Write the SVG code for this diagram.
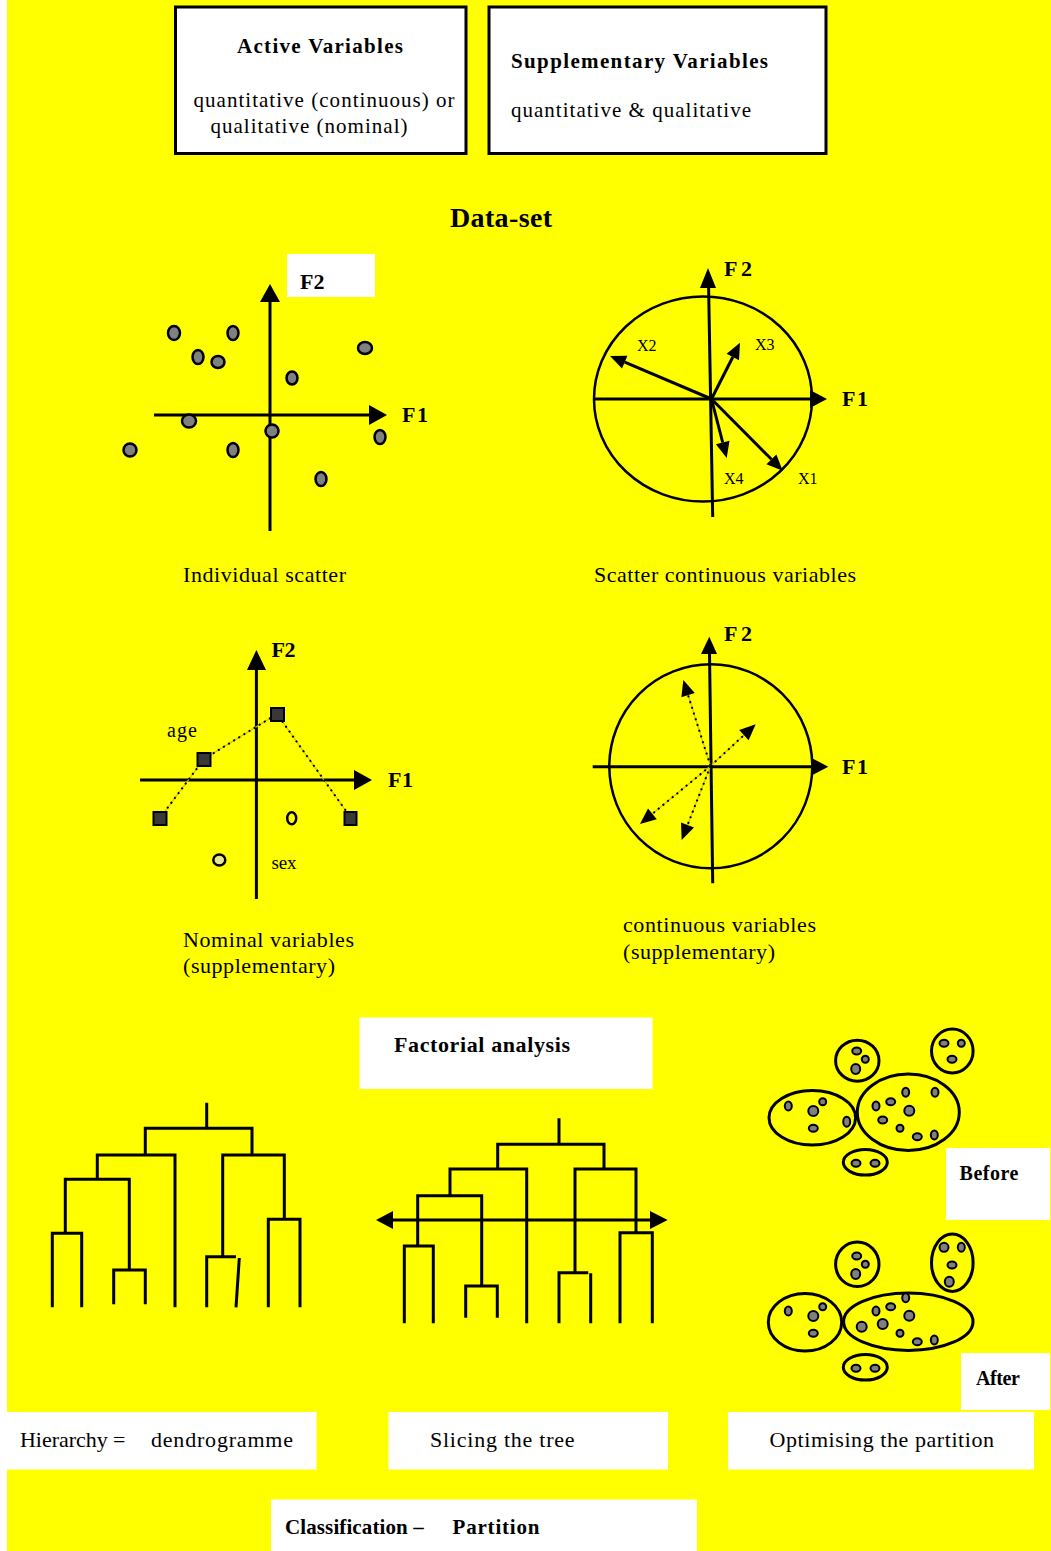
<svg xmlns="http://www.w3.org/2000/svg" width="1051" height="1551" viewBox="0 0 1051 1551">
<style>
.bg{fill:#ffff00}
.wb{fill:#ffffff}
.bx{fill:#ffffff;stroke:#000;stroke-width:3}
.ln{fill:none;stroke:#000;stroke-width:3}
.thin{fill:none;stroke:#000;stroke-width:2.5}
.ah{fill:#000;stroke:none}
.dot{fill:#808080;stroke:#000;stroke-width:2.5}
.cd{fill:#808080;stroke:#000;stroke-width:2}
.dotted{fill:none;stroke:#000;stroke-width:2;stroke-dasharray:2 4}
.faint{fill:none;stroke:#c8c800;stroke-width:1.2}
.sq{fill:#383838;stroke:#000;stroke-width:2}
.t{font-family:'Liberation Serif','Times New Roman',serif;fill:#000}
.r{font-weight:normal}
.b{font-weight:bold}
</style>
<rect class="bg" x="7" y="0" width="1044" height="1551"/>

<g id="active-box">
<rect class="bx" x="175.5" y="7" width="290.5" height="146.5"/>
<text class="t b" x="237" y="53" font-size="21" textLength="166" lengthAdjust="spacing">Active Variables</text>
<text class="t r" x="193.5" y="107" font-size="21" textLength="261" lengthAdjust="spacing">quantitative (continuous) or</text>
<text class="t r" x="210.5" y="133" font-size="21" textLength="197" lengthAdjust="spacing">qualitative (nominal)</text>
</g>
<g id="supp-box">
<rect class="bx" x="489" y="7" width="337" height="146.5"/>
<text class="t b" x="511" y="68" font-size="21" textLength="257" lengthAdjust="spacing">Supplementary Variables</text>
<text class="t r" x="511" y="117" font-size="21" textLength="240" lengthAdjust="spacing">quantitative &amp; qualitative</text>
</g>
<g id="dataset-title">
<text class="t b" x="450" y="227" font-size="28" textLength="102" lengthAdjust="spacing">Data-set</text>
</g>

<g id="individual-scatter">
<rect class="wb" x="287" y="254" width="88" height="43"/>
<line class="ln" x1="154" y1="415" x2="370" y2="415"/>
<polygon class="ah" points="387,415 369,405 369,425"/>
<line class="ln" x1="270" y1="531" x2="270" y2="301"/>
<polygon class="ah" points="270,284 260,302 280,302"/>
<text class="t b" x="300" y="289" font-size="22">F2</text>
<text class="t b" x="402" y="422" font-size="22" textLength="26" lengthAdjust="spacing">F1</text>
<ellipse class="dot" cx="174" cy="333" rx="6" ry="7"/>
<ellipse class="dot" cx="233" cy="333" rx="5.5" ry="7"/>
<ellipse class="dot" cx="198" cy="357" rx="5.5" ry="7"/>
<ellipse class="dot" cx="218" cy="362" rx="6.5" ry="6"/>
<ellipse class="dot" cx="292" cy="378" rx="5.5" ry="6.5"/>
<ellipse class="dot" cx="365" cy="348" rx="7" ry="6"/>
<ellipse class="dot" cx="189" cy="421" rx="7" ry="6.5"/>
<ellipse class="dot" cx="130" cy="450" rx="6.5" ry="6.5"/>
<ellipse class="dot" cx="233" cy="450" rx="5.5" ry="7"/>
<ellipse class="dot" cx="272" cy="431" rx="6.5" ry="6.5"/>
<ellipse class="dot" cx="380" cy="437" rx="5.5" ry="7"/>
<ellipse class="dot" cx="321" cy="479" rx="5.5" ry="7"/>
<text class="t r" x="183" y="582" font-size="22" textLength="163" lengthAdjust="spacing">Individual scatter</text>
</g>

<g id="continuous-scatter">
<ellipse class="thin" cx="703" cy="399" rx="109" ry="102.5"/>
<line class="ln" x1="594" y1="399" x2="811" y2="399"/>
<polygon class="ah" points="827,399 810,390 810,408"/>
<line class="ln" x1="712.7" y1="517" x2="708.6" y2="287"/>
<polygon class="ah" points="708,268 700,288 716,288"/>
<line class="ln" x1="711.5" y1="399" x2="624.7" y2="362.2"/>
<polygon class="ah" points="610,356 627.4,355.8 622,368.6"/>
<line class="ln" x1="711.5" y1="399" x2="732.8" y2="357"/>
<polygon class="ah" points="740,342.7 739,360.2 726.6,353.8"/>
<line class="ln" x1="711.5" y1="399" x2="722.7" y2="442.5"/>
<polygon class="ah" points="726.7,458 715.9,444.3 729.5,440.8"/>
<line class="ln" x1="711.5" y1="399" x2="771.4" y2="459.3"/>
<polygon class="ah" points="782.7,470.7 766.4,464.2 776.4,454.4"/>
<text class="t b" x="724" y="276" font-size="22" textLength="28" lengthAdjust="spacing">F2</text>
<text class="t b" x="842" y="406" font-size="22" textLength="26" lengthAdjust="spacing">F1</text>
<text class="t r" x="637" y="351" font-size="16">X2</text>
<text class="t r" x="755" y="350" font-size="16">X3</text>
<text class="t r" x="724" y="484" font-size="16">X4</text>
<text class="t r" x="798" y="484" font-size="16">X1</text>
<text class="t r" x="594" y="582" font-size="22" textLength="262" lengthAdjust="spacing">Scatter continuous variables</text>
</g>

<g id="nominal-scatter">
<line class="ln" x1="140" y1="780" x2="355" y2="780"/>
<polygon class="ah" points="372,780 354,770 354,790"/>
<line class="ln" x1="256.4" y1="899" x2="256.4" y2="669"/>
<polygon class="ah" points="256.4,650 247,670 266,670"/>
<polyline class="faint" points="160,818 204,759 277,714 351,818"/>
<polyline class="dotted" points="160,818 204,759 277,714 351,818"/>
<rect class="sq" x="271" y="708" width="13" height="13"/>
<rect class="sq" x="197.5" y="753" width="13" height="13"/>
<rect class="sq" x="153.5" y="812" width="13" height="13"/>
<rect class="sq" x="344.5" y="812" width="12" height="13"/>
<ellipse class="thin" cx="291.7" cy="818.3" rx="4.5" ry="6"/>
<ellipse fill="#e8e890" stroke="#000" stroke-width="2.5" cx="219.3" cy="860" rx="6" ry="5.5"/>
<text class="t b" x="271.5" y="657" font-size="22" textLength="24" lengthAdjust="spacing">F2</text>
<text class="t b" x="388" y="787" font-size="22" textLength="25" lengthAdjust="spacing">F1</text>
<text class="t r" x="167" y="737" font-size="20" textLength="30" lengthAdjust="spacing">age</text>
<text class="t r" x="271.5" y="869" font-size="19" textLength="25" lengthAdjust="spacing">sex</text>
<text class="t r" x="183" y="947" font-size="22" textLength="171" lengthAdjust="spacing">Nominal variables</text>
<text class="t r" x="183" y="973" font-size="22" textLength="152" lengthAdjust="spacing">(supplementary)</text>
</g>

<g id="continuous-supp">
<ellipse class="thin" cx="710.8" cy="766.3" rx="101.5" ry="102"/>
<line class="ln" x1="592.7" y1="766.7" x2="811" y2="766.7"/>
<polygon class="ah" points="828.3,766.7 811,757.7 811,775.7"/>
<line class="ln" x1="712.7" y1="883.3" x2="709.5" y2="653"/>
<polygon class="ah" points="709.3,636.7 701,654 717,654"/>
<line class="faint" x1="710.5" y1="766" x2="688.1" y2="695.2"/>
<line class="dotted" x1="710.5" y1="766" x2="688.1" y2="695.2"/>
<polygon class="ah" points="683.3,680 694.8,693.1 681.4,697.3"/>
<line class="faint" x1="710.5" y1="766" x2="743.9" y2="735.2"/>
<line class="dotted" x1="710.5" y1="766" x2="743.9" y2="735.2"/>
<polygon class="ah" points="755.7,724.3 748.6,740.3 739.2,730.1"/>
<line class="faint" x1="710.5" y1="766" x2="652.4" y2="813.8"/>
<line class="dotted" x1="710.5" y1="766" x2="652.4" y2="813.8"/>
<polygon class="ah" points="640,824 648,808.4 656.8,819.2"/>
<line class="faint" x1="710.5" y1="766" x2="687.5" y2="825.1"/>
<line class="dotted" x1="710.5" y1="766" x2="687.5" y2="825.1"/>
<polygon class="ah" points="681.7,840 681,822.6 694,827.6"/>
<text class="t b" x="724" y="641" font-size="22" textLength="28" lengthAdjust="spacing">F2</text>
<text class="t b" x="842" y="774" font-size="22" textLength="26" lengthAdjust="spacing">F1</text>
<text class="t r" x="623" y="932" font-size="22" textLength="193" lengthAdjust="spacing">continuous variables</text>
<text class="t r" x="623" y="959" font-size="22" textLength="152" lengthAdjust="spacing">(supplementary)</text>
</g>

<g id="factorial-analysis">
<rect class="wb" x="359.5" y="1017.5" width="293" height="71.5"/>
<text class="t b" x="394" y="1052" font-size="22" textLength="176" lengthAdjust="spacing">Factorial analysis</text>
</g>

<g id="dendrogram">
<path class="ln" d="M206.7,1102.7 V1128.3 M145.3,1155 V1128.3 H252 V1155
M97.3,1179.3 V1155 H175 V1307.3
M65.3,1233.3 V1179.3 H129.3 V1270
M52.3,1307.3 V1233.3 H81.7 V1307.3
M113.7,1304.3 V1270 H145.3 V1304.3
M222.7,1256.7 V1155 H284.3 V1219.3
M206.7,1307.3 V1256.7 H236
M239.3,1258 L236,1307.3
M268.3,1307.3 V1219.3 H300 V1307.3"/>
</g>

<g id="sliced-tree">
<path class="ln" d="M559,1118.3 V1144.3 M497.7,1169 V1144.3 H604 V1169
M450,1195.7 V1169 H526.7 V1323.3
M417.7,1246 V1195.7 H481.7 V1286
M404.3,1323.3 V1246 H433.3 V1323.3
M465.7,1317.7 V1286 H497.3 V1317.7
M575,1272.7 V1169 H636 V1232.7
M559,1323.3 V1272.7 H588.3
M590.7,1273.3 V1323.3
M620,1323.3 V1232.7 H652.3 V1323.3"/>
<line class="ln" x1="392" y1="1220" x2="651" y2="1220"/>
<polygon class="ah" points="376,1220 393,1211 393,1229"/>
<polygon class="ah" points="667.7,1220 650,1211 650,1229"/>
</g>

<g id="partition-before">
<ellipse class="ln" cx="857.3" cy="1060.7" rx="21.7" ry="20.5"/>
<ellipse class="cd" cx="856.7" cy="1051" rx="4.5" ry="3.5"/>
<ellipse class="cd" cx="865.3" cy="1059.3" rx="3.5" ry="3.5"/>
<ellipse class="cd" cx="855.7" cy="1069" rx="4.5" ry="5"/>
<ellipse class="ln" cx="952.3" cy="1051" rx="20.8" ry="22"/>
<ellipse class="cd" cx="944" cy="1043.3" rx="4.5" ry="3.5"/>
<ellipse class="cd" cx="961.3" cy="1043.3" rx="3.5" ry="3.5"/>
<ellipse class="cd" cx="952" cy="1059.3" rx="4.5" ry="3.5"/>
<ellipse class="ln" cx="812.3" cy="1117.7" rx="43.3" ry="27.3"/>
<ellipse class="cd" cx="788.3" cy="1106" rx="3.5" ry="4.5"/>
<ellipse class="cd" cx="822.7" cy="1101.7" rx="3.5" ry="3.5"/>
<ellipse class="cd" cx="813.3" cy="1111" rx="5" ry="5"/>
<ellipse class="cd" cx="813.3" cy="1128.3" rx="4.5" ry="3.5"/>
<ellipse class="cd" cx="846.7" cy="1121.7" rx="3.5" ry="5"/>
<ellipse class="ln" cx="908.3" cy="1112.3" rx="51" ry="38.2"/>
<ellipse class="cd" cx="905.7" cy="1092.3" rx="3.5" ry="4.5"/>
<ellipse class="cd" cx="935" cy="1092.3" rx="3.5" ry="4.5"/>
<ellipse class="cd" cx="876" cy="1106" rx="3.5" ry="4.5"/>
<ellipse class="cd" cx="890.7" cy="1101.7" rx="4.5" ry="3.5"/>
<ellipse class="cd" cx="909.3" cy="1110.7" rx="5" ry="5"/>
<ellipse class="cd" cx="882.7" cy="1120" rx="4.5" ry="3.5"/>
<ellipse class="cd" cx="900" cy="1128.3" rx="3.5" ry="3.5"/>
<ellipse class="cd" cx="917.3" cy="1136.7" rx="4.5" ry="3.5"/>
<ellipse class="cd" cx="934.3" cy="1135" rx="3.5" ry="4.5"/>
<ellipse class="ln" cx="865.3" cy="1162.3" rx="22" ry="12.8"/>
<ellipse class="cd" cx="856" cy="1163.3" rx="4.5" ry="3.5"/>
<ellipse class="cd" cx="875" cy="1163.3" rx="4.5" ry="3.5"/>
<rect class="wb" x="946" y="1148" width="104" height="72"/>
<text class="t b" x="959.5" y="1180" font-size="20" textLength="59" lengthAdjust="spacing">Before</text>
</g>

<g id="partition-after">
<ellipse class="ln" cx="857.3" cy="1264.3" rx="21.7" ry="22.2"/>
<ellipse class="cd" cx="856.7" cy="1256" rx="4.5" ry="3.5"/>
<ellipse class="cd" cx="865.3" cy="1264.3" rx="3.5" ry="3.5"/>
<ellipse class="cd" cx="855.7" cy="1274" rx="4.5" ry="5"/>
<ellipse class="ln" cx="952.3" cy="1262.7" rx="20.8" ry="28.7"/>
<ellipse class="cd" cx="944" cy="1247.3" rx="4.5" ry="4.5"/>
<ellipse class="cd" cx="961.3" cy="1247.3" rx="3.5" ry="4.5"/>
<ellipse class="cd" cx="952" cy="1265" rx="4.5" ry="3.5"/>
<ellipse class="cd" cx="949.3" cy="1281.7" rx="4.5" ry="5"/>
<ellipse class="ln" cx="805" cy="1322.3" rx="36.7" ry="28.8"/>
<ellipse class="cd" cx="788.3" cy="1311" rx="3.5" ry="4.5"/>
<ellipse class="cd" cx="822.7" cy="1306.7" rx="3.5" ry="3.5"/>
<ellipse class="cd" cx="813.3" cy="1316" rx="5" ry="5"/>
<ellipse class="cd" cx="813.3" cy="1333.3" rx="4.5" ry="3.5"/>
<ellipse class="ln" cx="908.3" cy="1321.7" rx="64.7" ry="28.7"/>
<ellipse class="cd" cx="905.7" cy="1297.7" rx="3.5" ry="4.5"/>
<ellipse class="cd" cx="876" cy="1311" rx="3.5" ry="4.5"/>
<ellipse class="cd" cx="890.7" cy="1306.7" rx="4.5" ry="3.5"/>
<ellipse class="cd" cx="909.3" cy="1315.7" rx="5" ry="5"/>
<ellipse class="cd" cx="861.7" cy="1326.7" rx="5" ry="5"/>
<ellipse class="cd" cx="882.7" cy="1324" rx="5" ry="5"/>
<ellipse class="cd" cx="900" cy="1333.3" rx="3.5" ry="3.5"/>
<ellipse class="cd" cx="917.3" cy="1341.7" rx="4.5" ry="3.5"/>
<ellipse class="cd" cx="934.3" cy="1340" rx="3.5" ry="4.5"/>
<ellipse class="ln" cx="865.3" cy="1367.3" rx="22" ry="12.8"/>
<ellipse class="cd" cx="856" cy="1368.3" rx="4.5" ry="3.5"/>
<ellipse class="cd" cx="875" cy="1368.3" rx="4.5" ry="3.5"/>
<rect class="wb" x="961" y="1353" width="89" height="57"/>
<text class="t b" x="976" y="1385" font-size="20" textLength="44" lengthAdjust="spacing">After</text>
</g>

<g id="label-hierarchy">
<rect class="wb" x="7" y="1412" width="309.5" height="57.5"/>
<text class="t r" font-size="22"><tspan x="20" y="1447" textLength="111" lengthAdjust="spacing">Hierarchy = </tspan><tspan x="151" y="1447" textLength="142" lengthAdjust="spacing">dendrogramme</tspan></text>
</g>
<g id="label-slicing">
<rect class="wb" x="388.5" y="1412" width="279.5" height="57.5"/>
<text class="t r" x="430" y="1447" font-size="22" textLength="144.5" lengthAdjust="spacing">Slicing the tree</text>
</g>
<g id="label-optimising">
<rect class="wb" x="728" y="1412" width="306" height="57.5"/>
<text class="t r" x="769.5" y="1447" font-size="22" textLength="224.5" lengthAdjust="spacing">Optimising the partition</text>
</g>
<g id="label-classification">
<rect class="wb" x="271" y="1499.5" width="426" height="51.5"/>
<text class="t b" font-size="21"><tspan x="285" y="1533.5" textLength="144" lengthAdjust="spacing">Classification – </tspan><tspan x="452.5" y="1533.5" textLength="87" lengthAdjust="spacing">Partition</tspan></text>
</g>
</svg>
